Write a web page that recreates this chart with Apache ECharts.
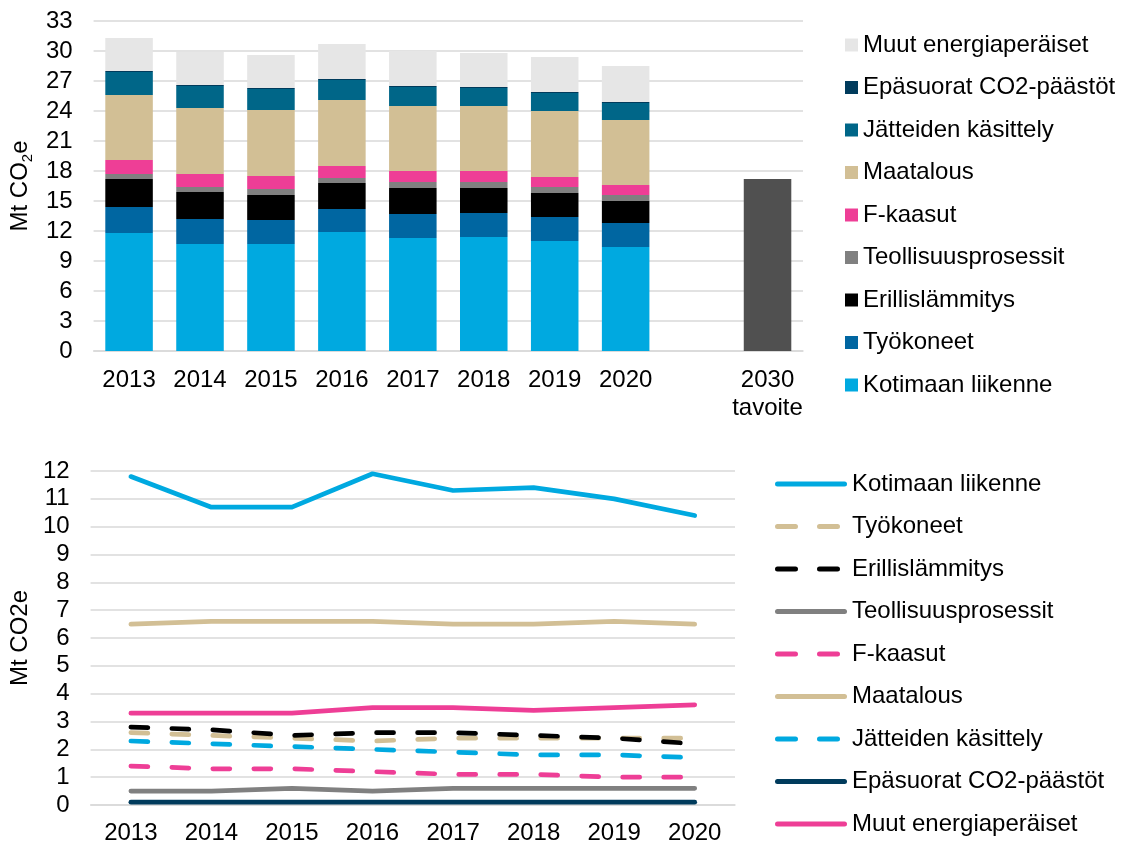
<!DOCTYPE html>
<html>
<head>
<meta charset="utf-8">
<script src="https://cdn.jsdelivr.net/npm/echarts@6/dist/echarts.min.js"></script>
<style>
html,body{margin:0;padding:0;background:#fff;}
#top{position:absolute;left:0;top:0;width:1121px;height:430px;}
#bottom{position:absolute;left:0;top:430px;width:1121px;height:417px;}
</style>
</head>
<body>
<div id="top"></div>
<div id="bottom"></div>
<script>
// ---- data ----
const years = ['2013','2014','2015','2016','2017','2018','2019','2020'];
const barCategories = ['2013','2014','2015','2016','2017','2018','2019','2020','','2030\ntavoite'];
const seriesNames = ['Kotimaan liikenne','Työkoneet','Erillislämmitys','Teollisuusprosessit','F-kaasut','Maatalous','Jätteiden käsittely','Epäsuorat CO2-päästöt','Muut energiaperäiset'];
const kotimaan   = [11.8, 10.7, 10.7, 11.9, 11.3, 11.4, 11.0, 10.4];
const tyokoneet  = [2.6, 2.5, 2.4, 2.3, 2.4, 2.4, 2.4, 2.4];
const erillis    = [2.8, 2.7, 2.5, 2.6, 2.6, 2.5, 2.4, 2.2];
const teollisuus = [0.5, 0.5, 0.6, 0.5, 0.6, 0.6, 0.6, 0.6];
const fkaasut    = [1.4, 1.3, 1.3, 1.2, 1.1, 1.1, 1.0, 1.0];
const maatalous  = [6.5, 6.6, 6.6, 6.6, 6.5, 6.5, 6.6, 6.5];
const jatteiden  = [2.3, 2.2, 2.1, 2.0, 1.9, 1.8, 1.8, 1.7];
const epasuorat  = [0.1, 0.1, 0.1, 0.1, 0.1, 0.1, 0.1, 0.1];
const muut       = [3.3, 3.3, 3.3, 3.5, 3.5, 3.4, 3.5, 3.6];
const target2030 = 17.2;
const topTicks = {min: 0, max: 33, interval: 3};
const bottomTicks = {min: 0, max: 12, interval: 1};

const values = [kotimaan, tyokoneet, erillis, teollisuus, fkaasut, maatalous, jatteiden, epasuorat, muut];
const barColors = ['#00A9E0','#0066A1','#000000','#808080','#EE3E96','#D2BF95','#006688','#003B5C','#E6E6E6'];
const lineColors = ['#00A9E0','#D2BF95','#000000','#808080','#EE3E96','#D2BF95','#00A9E0','#003B5C','#EE3E96'];
const lineDashed = [false, true, true, false, true, false, true, false, false];

const FONT = '"Liberation Sans", Arial, sans-serif';
const txt = {fontFamily: FONT, fontSize: 24, color: '#000'};

// legend icons for line chart (72 x 5 box)
const SOLID_ICON = 'path://M2.5,0 L69.5,0 A2.5,2.5 0 0 1 69.5,5 L2.5,5 A2.5,2.5 0 0 1 2.5,0 Z';
const DASH_ICON = 'path://M2.5,0 L20.5,0 A2.5,2.5 0 0 1 20.5,5 L2.5,5 A2.5,2.5 0 0 1 2.5,0 Z ' +
                  'M44.5,0 L62.5,0 A2.5,2.5 0 0 1 62.5,5 L44.5,5 A2.5,2.5 0 0 1 44.5,0 Z ' +
                  'M72,2.5 L72,2.5 Z';

// ---- top stacked bar chart ----
const topChart = echarts.init(document.getElementById('top'), null, {renderer: 'canvas'});
const barSeries = values.map((v, i) => ({
  name: seriesNames[i],
  type: 'bar',
  stack: 'total',
  barCategoryGap: '33%',
  itemStyle: {color: barColors[i]},
  data: v.concat(['-', '-'])
}));
barSeries.push({
  name: 'tavoite',
  type: 'bar',
  stack: 'total',
  itemStyle: {color: '#505050'},
  data: years.map(() => '-').concat(['-', target2030])
});
topChart.setOption({
  animation: false,
  textStyle: {fontFamily: FONT},
  grid: {left: 93, right: 318, top: 21, bottom: 79},
  legend: {
    orient: 'vertical', left: 840, top: 28, height: 400,
    itemWidth: 13, itemHeight: 13, itemGap: 18.5,
    icon: 'rect',
    textStyle: Object.assign({lineHeight: 23}, txt),
    data: seriesNames.slice().reverse()
  },
  xAxis: {
    type: 'category', data: barCategories,
    axisTick: {show: false},
    axisLine: {lineStyle: {color: '#d9d9d9', width: 1.5}},
    axisLabel: Object.assign({margin: 15, lineHeight: 28, interval: 0}, txt)
  },
  yAxis: {
    type: 'value', min: topTicks.min, max: topTicks.max, interval: topTicks.interval,
    axisLine: {show: false}, axisTick: {show: false},
    splitLine: {lineStyle: {color: '#d9d9d9', width: 1.5}},
    axisLabel: Object.assign({margin: 21}, txt),
    name: '{a|Mt CO}{s|2}{a|e}',
    nameLocation: 'middle', nameGap: 53,
    nameTextStyle: {
      rich: {
        a: {fontFamily: FONT, fontSize: 24, color: '#000', lineHeight: 30, verticalAlign: 'middle'},
        s: {fontFamily: FONT, fontSize: 15, color: '#000', lineHeight: 30, verticalAlign: 'bottom'}
      }
    }
  },
  series: barSeries
});

// ---- bottom line chart ----
const bottomChart = echarts.init(document.getElementById('bottom'), null, {renderer: 'canvas'});
const lineSeries = values.map((v, i) => ({
  name: seriesNames[i],
  type: 'line',
  symbol: 'none',
  showSymbol: false,
  lineStyle: {
    color: lineColors[i], width: 4.7,
    type: lineDashed[i] ? [17, 24] : 'solid',
    cap: 'round', join: 'round'
  },
  itemStyle: {color: lineColors[i]},
  data: v
}));
bottomChart.setOption({
  animation: false,
  textStyle: {fontFamily: FONT},
  grid: {left: 89, right: 386, top: 41, bottom: 42},
  legend: {
    orient: 'vertical', left: 770, top: 37, height: 420,
    itemWidth: 72, itemHeight: 5, itemGap: 18.5,
    textStyle: Object.assign({lineHeight: 23}, txt),
    data: seriesNames.map((n, i) => ({
      name: n,
      icon: lineDashed[i] ? DASH_ICON : SOLID_ICON,
      itemStyle: {color: lineColors[i], borderWidth: 0}
    }))
  },
  xAxis: {
    type: 'category', data: years,
    axisTick: {show: false},
    axisLine: {lineStyle: {color: '#d9d9d9', width: 1.5}},
    axisLabel: Object.assign({margin: 14, lineHeight: 28, interval: 0}, txt)
  },
  yAxis: {
    type: 'value', min: bottomTicks.min, max: bottomTicks.max, interval: bottomTicks.interval,
    axisLine: {show: false}, axisTick: {show: false},
    splitLine: {lineStyle: {color: '#d9d9d9', width: 1.5}},
    axisLabel: Object.assign({margin: 21}, txt),
    name: 'Mt CO2e',
    nameLocation: 'middle', nameGap: 53,
    nameTextStyle: txt
  },
  series: lineSeries
});
</script>
</body>
</html>
